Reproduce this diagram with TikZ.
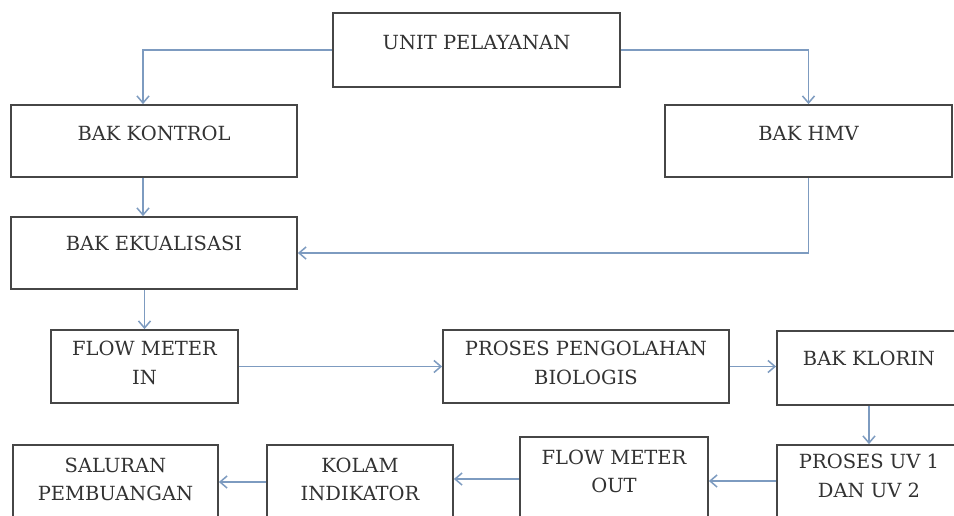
\documentclass[tikz,border=0pt]{standalone}
\usepackage{fontspec}
\setmainfont{DejaVu Serif}
\usetikzlibrary{arrows.meta}
\definecolor{boxline}{RGB}{70,70,70}
\definecolor{arrowc}{RGB}{125,155,192}
\definecolor{txt}{RGB}{50,50,50}
\tikzset{
  boxnode/.style={draw=boxline, line width=1.8pt, inner sep=0pt, rectangle},
  lbl/.style={text=txt, font=\fontsize{19.5}{28.5}\selectfont, align=center, inner sep=0pt},
  arr/.style={draw=arrowc, line width=1.5pt, -{Straight Barb[length=7pt,width=12pt,line width=1.5pt]}},
}
% name, x1, y1, x2, y2, text-y, text
\newcommand{\mybox}[7]{%
  \node[boxnode, minimum width={(#4-#2)*1pt}, minimum height={(#5-#3)*1pt}]
    (#1) at ({(#2+#4)/2},{(#3+#5)/2}) {};
  \node[lbl] (#1-t) at ({(#2+#4)/2},#6) {#7};
}
\begin{document}
\begin{tikzpicture}[x=1pt,y=-1pt]
\useasboundingbox (0,0) rectangle (954,515);
\clip (0,0) rectangle (954,515);
\fill[white] (0,0) rectangle (954,515);

\mybox{unit}{333}{13}{620}{87}{43}{UNIT PELAYANAN}
\mybox{kontrol}{11}{105}{297}{177}{133}{BAK KONTROL}
\mybox{hmv}{665}{105}{952}{177}{133}{BAK HMV}
\mybox{ekual}{11}{217}{297}{289}{243}{BAK EKUALISASI}
\mybox{fmin}{51}{330}{238}{403}{363}{FLOW METER\\IN}
\mybox{bio}{443}{330}{729}{403}{363}{PROSES PENGOLAHAN\\BIOLOGIS}
\mybox{klorin}{777}{331}{961}{405}{358}{BAK KLORIN}
\mybox{uv}{777}{445}{961}{517}{476}{PROSES UV 1\\DAN UV 2}
\mybox{fmout}{520}{437}{708}{521}{471.5}{FLOW METER\\OUT}
\mybox{kolam}{267}{445}{453}{519}{479.5}{KOLAM\\INDIKATOR}
\mybox{saluran}{13}{445}{218}{519}{479.5}{SALURAN\\PEMBUANGAN}

\draw[arr] (unit.west) -| ([xshift=-11pt]kontrol.north);
\draw[arr] (unit.east) -| (hmv.north);
\draw[arr] ([xshift=-11pt]kontrol.south) -- ([xshift=-11pt]ekual.north);
\draw[arr] (hmv.south) |- (ekual.east);
\draw[arr] (ekual.south -| fmin.north) -- (fmin.north);
\draw[arr] (fmin.east) -- (bio.west);
\draw[arr] (bio.east) -- (bio.east -| klorin.west);
\draw[arr] (klorin.south) -- (uv.north);
\draw[arr] (uv.west) -- (uv.west -| fmout.east);
\draw[arr] (fmout.west) -- (fmout.west -| kolam.east);
\draw[arr] (kolam.west) -- (saluran.east);
\end{tikzpicture}
\end{document}
